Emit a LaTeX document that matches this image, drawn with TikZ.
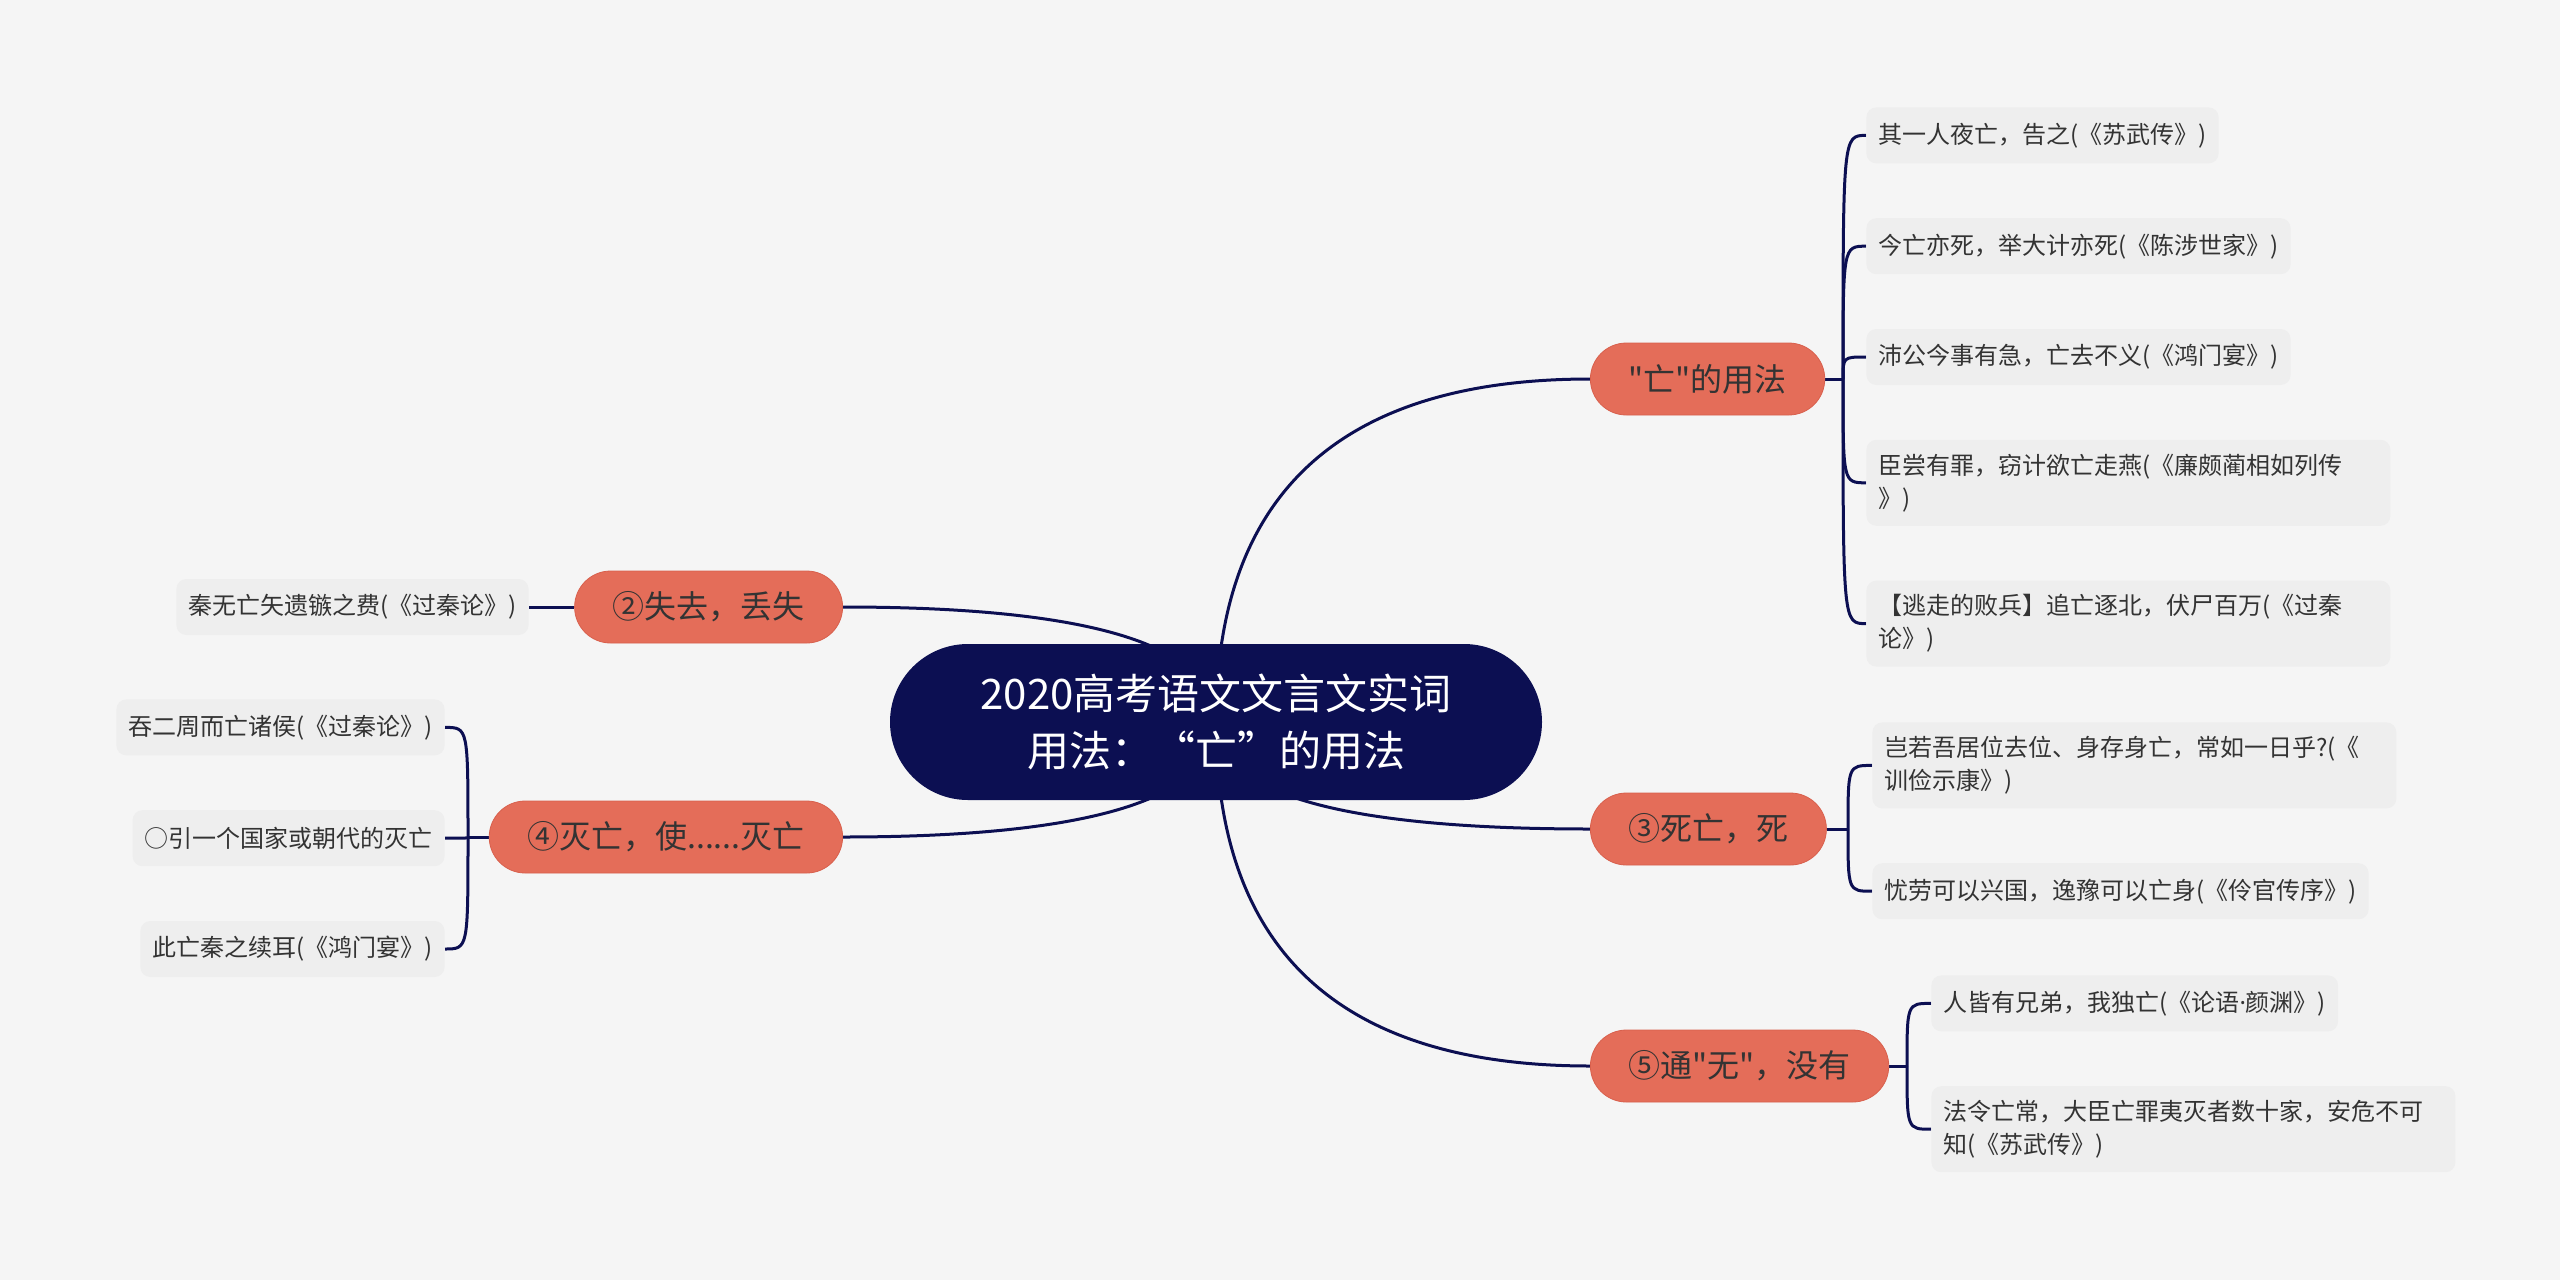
\documentclass[tikz,border=0pt]{standalone}
\usepackage{fontspec}
\newfontfamily\cjk{Noto Sans CJK SC}
\newfontfamily\latin{Noto Sans}
\usepackage{xcolor}
\definecolor{cMain}{HTML}{0C0F52}
\definecolor{cBranch}{HTML}{E46D59}
\definecolor{cBranchLine}{HTML}{D8604D}
\definecolor{cLeaf}{HTML}{EEEEEE}
\definecolor{cBg}{HTML}{F5F5F5}
\definecolor{cText}{HTML}{333333}
\usepackage{tikz}
\usetikzlibrary{positioning,calc}
\pgfdeclarelayer{canvas}
\pgfdeclarelayer{edges}
\pgfsetlayers{canvas,edges,main}
\tikzset{
  node-root/.style={fill=cMain,text=white,rounded corners=39pt,
    minimum width=326pt,minimum height=78pt,align=center,
    font=\cjk\fontsize{21pt}{28.5pt}\selectfont},
  node-branch/.style={fill=cBranch,draw=cBranchLine,thin,text=cText,
    rounded corners=18pt,minimum height=36pt,inner xsep=19pt,
    font=\cjk\fontsize{16pt}{19pt}\selectfont},
  node-leaf/.style={fill=cLeaf,text=cText,rounded corners=5pt,
    minimum height=28pt,inner xsep=6pt,inner ysep=7pt,align=left,
    font=\cjk\fontsize{12pt}{16.5pt}\selectfont},
  node-leaf-wide/.style={node-leaf,text width=250pt},
  link/.style={draw=cMain,line width=1.5pt},
}

\begin{document}
\begin{tikzpicture}[x=0.5pt,y=-0.5pt]
  \begin{pgfonlayer}{canvas}
    \fill[cBg] (0,0) rectangle (2560,1280);
  \end{pgfonlayer}
  \useasboundingbox (0,0) rectangle (2560,1280);

  \node[node-root] (root) at (1216,722) {2020高考语文文言文实词\\用法：“亡”的用法};

  % main branches
  \node[node-branch,anchor=west] (b1) at (1590,379) {"亡"的用法};
  \node[node-branch,anchor=east] (b2) at (843,607) {②失去，丢失};
  \node[node-branch,anchor=west] (b3) at (1590,829) {③死亡，死};
  \node[node-branch,anchor=east] (b4) at (843,837) {④灭亡，使......灭亡};
  \node[node-branch,anchor=west] (b5) at (1590,1066) {⑤通"无"，没有};

  % leaves
  \node[node-leaf,anchor=north west] (l11) at (1866,107) {其一人夜亡，告之(《苏武传》)};
  \node[node-leaf,below right=27pt and 0pt of l11.south west] (l12) {今亡亦死，举大计亦死(《陈涉世家》)};
  \node[node-leaf,below right=27pt and 0pt of l12.south west] (l13) {沛公今事有急，亡去不义(《鸿门宴》)};
  \node[node-leaf-wide,below right=27pt and 0pt of l13.south west] (l14) {臣尝有罪，窃计欲亡走燕(《廉颇蔺相如列传\\》)};
  \node[node-leaf-wide,below right=27pt and 0pt of l14.south west] (l15) {【逃走的败兵】追亡逐北，伏尸百万(《过秦\\论》)};

  \node[node-leaf,anchor=east] (l21) at (529,607) {秦无亡矢遗镞之费(《过秦论》)};

  \node[node-leaf-wide,anchor=north west] (l31) at (1872,722) {岂若吾居位去位、身存身亡，常如一日乎?(《\\训俭示康》)};
  \node[node-leaf,below right=27pt and 0pt of l31.south west] (l32) {忧劳可以兴国，逸豫可以亡身(《伶官传序》)};

  \node[node-leaf,anchor=north east] (l41) at (445,699) {吞二周而亡诸侯(《过秦论》)};
  \node[node-leaf,below left=27pt and 0pt of l41.south east] (l42) {○引一个国家或朝代的灭亡};
  \node[node-leaf,below left=27pt and 0pt of l42.south east] (l43) {此亡秦之续耳(《鸿门宴》)};

  \node[node-leaf,anchor=north west] (l51) at (1931,975) {人皆有兄弟，我独亡(《论语{\latin ·}颜渊》)};
  \node[node-leaf-wide,below right=27pt and 0pt of l51.south west] (l52) {法令亡常，大臣亡罪夷灭者数十家，安危不可\\知(《苏武传》)};

  \coordinate (j1) at ($(b1.east -| l11.west)+(-23,0)$);
  \coordinate (j3) at ($(b3.east -| l31.west)+(-24,0)$);
  \coordinate (j4) at ($(b4.west -| l41.east)+(23,0)$);
  \coordinate (j5) at ($(b5.east -| l51.west)+(-24,0)$);

  \begin{pgfonlayer}{edges}
    \foreach \b in {b1,b3,b5}
      \draw[link] (root.center) .. controls ($(root.center)!2/3!(root.center |- \b.west)$)
        and ($(\b.west)!2/3!(root.center |- \b.west)$) .. (\b.west);
    \foreach \b in {b2,b4}
      \draw[link] (root.center) .. controls ($(root.center)!2/3!(root.center |- \b.east)$)
        and ($(\b.east)!2/3!(root.center |- \b.east)$) .. (\b.east);

    \draw[link] (b1.east) -- (j1);
    \foreach \k in {l11,l12,l13,l14,l15}
      \draw[link] (j1) .. controls (j1 |- \k.west) .. (\k.west);
    \draw[link] (b2.west) -- (l21.east);
    \draw[link] (b3.east) -- (j3);
    \foreach \k in {l31,l32}
      \draw[link] (j3) .. controls (j3 |- \k.west) .. (\k.west);
    \draw[link] (b4.west) -- (j4);
    \foreach \k in {l41,l42,l43}
      \draw[link] (j4) .. controls (j4 |- \k.east) .. (\k.east);
    \draw[link] (b5.east) -- (j5);
    \foreach \k in {l51,l52}
      \draw[link] (j5) .. controls (j5 |- \k.west) .. (\k.west);
  \end{pgfonlayer}
\end{tikzpicture}
\end{document}
